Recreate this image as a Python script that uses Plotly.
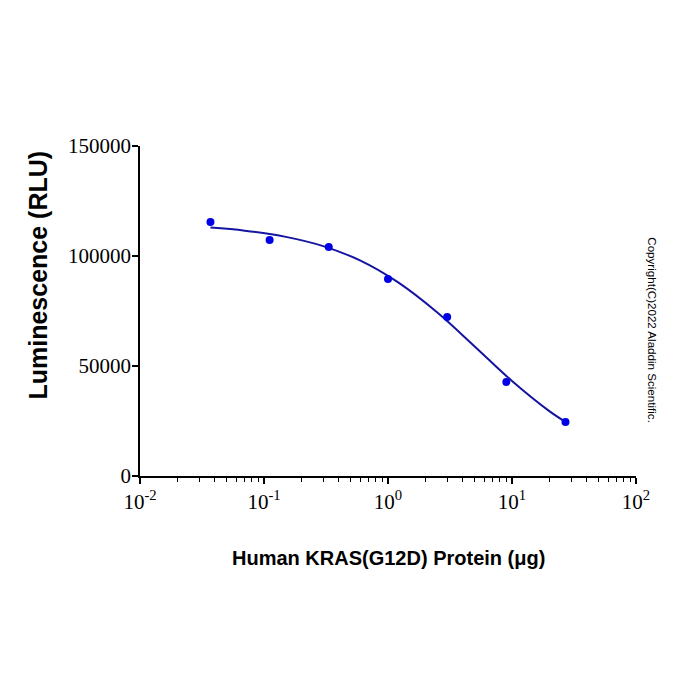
import plotly.graph_objects as go

# Measured points
dose_ug = [0.037, 0.111, 0.333, 1.0, 3.0, 9.0, 27.0]
luminescence = [115500, 107300, 104100, 89500, 72300, 42700, 24500]

# Fitted curve
curve_x = [0.037, 0.07, 0.15, 0.3, 0.6, 1.2, 2.5, 5.0, 10.0, 20.0, 27.0]
curve_y = [112900, 111500, 108700, 104500, 97900, 88100, 74300, 58900, 43200, 29500, 24600]

x_major = [0.01, 0.1, 1, 10, 100]
x_major_text = ["10<sup>-2</sup>", "10<sup>-1</sup>", "10<sup>0</sup>", "10<sup>1</sup>", "10<sup>2</sup>"]
x_minor = [m * d for d in [0.01, 0.1, 1, 10] for m in range(2, 10)]
y_ticks = [0, 50000, 100000, 150000]

fig = go.Figure()
fig.add_trace(go.Scatter(x=curve_x, y=curve_y, mode="lines", line_shape="spline",
                         line=dict(color="#1414a0", width=2), showlegend=False, hoverinfo="skip"))
fig.add_trace(go.Scatter(x=dose_ug, y=luminescence, mode="markers",
                         marker=dict(color="#0000e6", size=8), showlegend=False))

tickfont = dict(family="Liberation Serif, Times New Roman, serif", size=21, color="black")
fig.update_xaxes(type="log", range=[-2, 2], tickvals=x_major, ticktext=x_major_text,
                 ticks="outside", ticklen=6, tickwidth=1.5, tickcolor="black",
                 showline=True, linecolor="black", linewidth=1.5, showgrid=False, zeroline=False,
                 tickfont=tickfont,
                 minor=dict(tickvals=x_minor, ticks="outside", ticklen=4, tickwidth=1.2,
                            tickcolor="black", showgrid=False))
fig.update_yaxes(range=[0, 150000], tickvals=y_ticks, ticktext=[str(v) for v in y_ticks],
                 ticks="outside", ticklen=6, tickwidth=1.5, tickcolor="black",
                 showline=True, linecolor="black", linewidth=1.5, showgrid=False, zeroline=False,
                 tickfont=tickfont, ticklabelstandoff=-3)

fig.add_annotation(text="<b>Luminescence (RLU)</b>", xref="paper", yref="paper",
                   x=-0.2046, y=0.609, xanchor="center", yanchor="middle",
                   textangle=-90, showarrow=False,
                   font=dict(family="Liberation Sans, Arial, sans-serif", size=25, color="black"))
fig.add_annotation(text="<b>Human KRAS(G12D) Protein (μg)</b>", xref="paper", yref="paper",
                   x=0.502, y=-0.2485, xanchor="center", yanchor="middle", showarrow=False,
                   font=dict(family="Liberation Sans, Arial, sans-serif", size=20, color="black"))
fig.add_annotation(text="Copyright(C)2022 Aladdin Scientific.", xref="paper", yref="paper",
                   x=1.034, y=0.442, xanchor="center", yanchor="middle",
                   textangle=90, showarrow=False,
                   font=dict(family="Liberation Sans, Arial, sans-serif", size=11.6, color="black"))

fig.update_layout(width=700, height=700, margin=dict(l=140, r=64, t=146, b=224),
                  plot_bgcolor="white", paper_bgcolor="white")
fig.write_html("out.html")
